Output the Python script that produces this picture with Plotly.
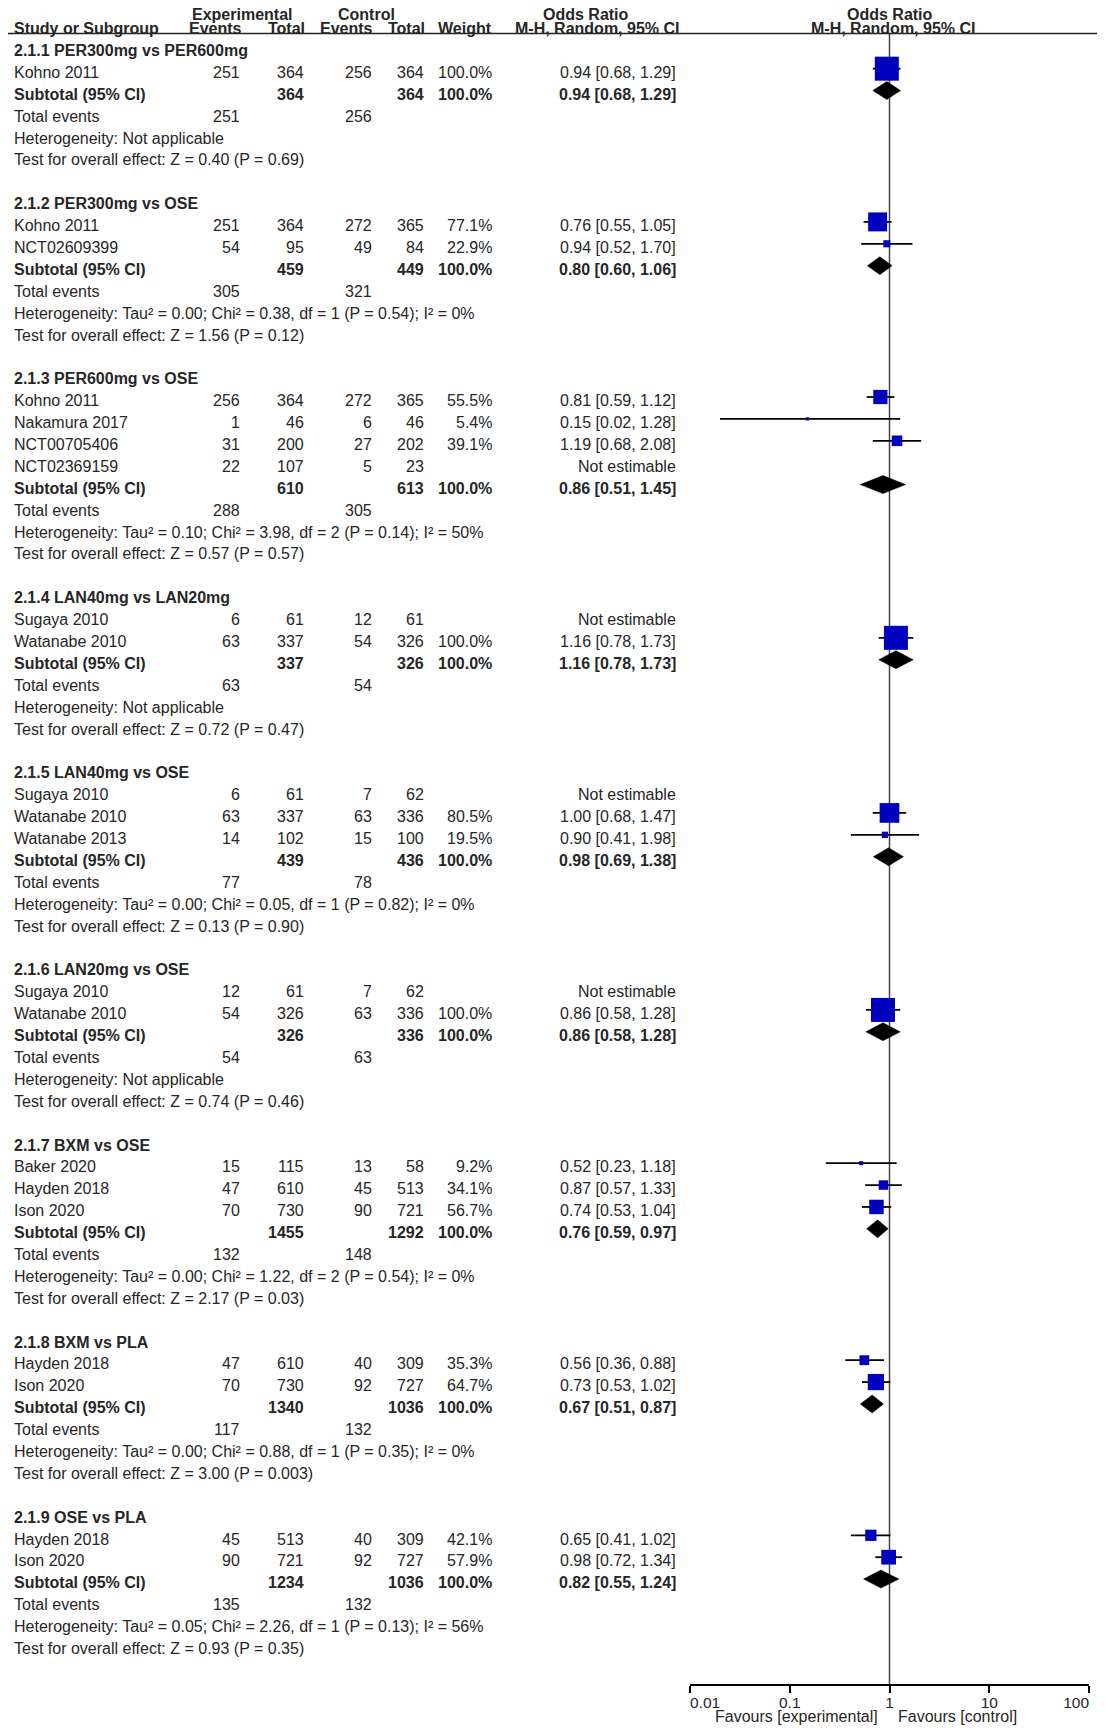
import plotly.graph_objects as go

# ---------------- data ----------------
section_titles = [
    "2.1.1 PER300mg vs PER600mg", "2.1.2 PER300mg vs OSE", "2.1.3 PER600mg vs OSE",
    "2.1.4 LAN40mg vs LAN20mg", "2.1.5 LAN40mg vs OSE", "2.1.6 LAN20mg vs OSE",
    "2.1.7 BXM vs OSE", "2.1.8 BXM vs PLA", "2.1.9 OSE vs PLA",
]

study_section = [0, 1, 1, 2, 2, 2, 2, 3, 3, 4, 4, 4, 5, 5, 6, 6, 6, 7, 7, 8, 8]
study_names = [
    "Kohno 2011",
    "Kohno 2011", "NCT02609399",
    "Kohno 2011", "Nakamura 2017", "NCT00705406", "NCT02369159",
    "Sugaya 2010", "Watanabe 2010",
    "Sugaya 2010", "Watanabe 2010", "Watanabe 2013",
    "Sugaya 2010", "Watanabe 2010",
    "Baker 2020", "Hayden 2018", "Ison 2020",
    "Hayden 2018", "Ison 2020",
    "Hayden 2018", "Ison 2020",
]
exp_events = [251, 251, 54, 256, 1, 31, 22, 6, 63, 6, 63, 14, 12, 54, 15, 47, 70, 47, 70, 45, 90]
exp_total = [364, 364, 95, 364, 46, 200, 107, 61, 337, 61, 337, 102, 61, 326, 115, 610, 730, 610, 730, 513, 721]
ctl_events = [256, 272, 49, 272, 6, 27, 5, 12, 54, 7, 63, 15, 7, 63, 13, 45, 90, 40, 92, 40, 92]
ctl_total = [364, 365, 84, 365, 46, 202, 23, 61, 326, 62, 336, 100, 62, 336, 58, 513, 721, 309, 727, 309, 727]
weights = [100.0, 77.1, 22.9, 55.5, 5.4, 39.1, None, None, 100.0, None, 80.5, 19.5, None, 100.0,
           9.2, 34.1, 56.7, 35.3, 64.7, 42.1, 57.9]
or_est = [0.94, 0.76, 0.94, 0.81, 0.15, 1.19, None, None, 1.16, None, 1.00, 0.90, None, 0.86,
          0.52, 0.87, 0.74, 0.56, 0.73, 0.65, 0.98]
or_lo = [0.68, 0.55, 0.52, 0.59, 0.02, 0.68, None, None, 0.78, None, 0.68, 0.41, None, 0.58,
         0.23, 0.57, 0.53, 0.36, 0.53, 0.41, 0.72]
or_hi = [1.29, 1.05, 1.70, 1.12, 1.28, 2.08, None, None, 1.73, None, 1.47, 1.98, None, 1.28,
         1.18, 1.33, 1.04, 0.88, 1.02, 1.02, 1.34]

sub_exp_total = [364, 459, 610, 337, 439, 326, 1455, 1340, 1234]
sub_ctl_total = [364, 449, 613, 326, 436, 336, 1292, 1036, 1036]
sub_or = [0.94, 0.80, 0.86, 1.16, 0.98, 0.86, 0.76, 0.67, 0.82]
sub_lo = [0.68, 0.60, 0.51, 0.78, 0.69, 0.58, 0.59, 0.51, 0.55]
sub_hi = [1.29, 1.06, 1.45, 1.73, 1.38, 1.28, 0.97, 0.87, 1.24]
tot_exp_events = [251, 305, 288, 63, 77, 54, 132, 117, 135]
tot_ctl_events = [256, 321, 305, 54, 78, 63, 148, 132, 132]
heterogeneity = [
    "Not applicable",
    "Tau² = 0.00; Chi² = 0.38, df = 1 (P = 0.54); I² = 0%",
    "Tau² = 0.10; Chi² = 3.98, df = 2 (P = 0.14); I² = 50%",
    "Not applicable",
    "Tau² = 0.00; Chi² = 0.05, df = 1 (P = 0.82); I² = 0%",
    "Not applicable",
    "Tau² = 0.00; Chi² = 1.22, df = 2 (P = 0.54); I² = 0%",
    "Tau² = 0.00; Chi² = 0.88, df = 1 (P = 0.35); I² = 0%",
    "Tau² = 0.05; Chi² = 2.26, df = 1 (P = 0.13); I² = 56%",
]
overall_effect = [
    "Z = 0.40 (P = 0.69)", "Z = 1.56 (P = 0.12)", "Z = 0.57 (P = 0.57)",
    "Z = 0.72 (P = 0.47)", "Z = 0.13 (P = 0.90)", "Z = 0.74 (P = 0.46)",
    "Z = 2.17 (P = 0.03)", "Z = 3.00 (P = 0.003)", "Z = 0.93 (P = 0.35)",
]
axis_ticks = [0.01, 0.1, 1, 10, 100]
axis_ticktext = ["0.01", "0.1", "1", "10", "100"]

# ---------------- layout constants ----------------
# The page body has an 8px default margin; the figure is sized/offset to fill the window.
OFF = 8
W, H = 1105 - OFF, 1733 - 2 * OFF


def px_x(v):  # window x pixel -> figure pixel
    return v - OFF


def px_y(v):
    return v - OFF


ROW0, ROWH = px_y(50.5), 21.89
R_TOP = -ROW0 / ROWH
R_BOT = R_TOP + H / ROWH
AXIS_PX = px_y(1685)
AXIS_ROW = (AXIS_PX - ROW0) / ROWH
HDR_LINE_ROW = (px_y(33.5) - ROW0) / ROWH
FONT = "Liberation Sans, Arial, sans-serif"
FS = 16
TXT = "#262626"
MARK_OFF = -0.17

X_NAME, X_EE, X_ET, X_CE, X_CT, X_W, X_OR = 12.5, 241, 305, 373, 424.5, 493, 676.5

annotations = []


def txt(xpx, row, text, anchor="right", bold=False):
    annotations.append(dict(
        x=px_x(xpx) / W, xref="paper", y=row, yref="y", text=f"<b>{text}</b>" if bold else text,
        showarrow=False, xanchor=anchor, yanchor="middle", borderpad=0,
        font=dict(family=FONT, size=FS, color=TXT),
    ))


def fmt_ci(e, lo, hi):
    return f"{e:.2f} [{lo:.2f}, {hi:.2f}]"


# headers
hr1 = (px_y(14.5) - ROW0) / ROWH
hr2 = (px_y(28.5) - ROW0) / ROWH
txt(242, hr1, "Experimental", "center", True)
txt(366.5, hr1, "Control", "center", True)
txt(586, hr1, "Odds Ratio", "center", True)
txt(890, hr1, "Odds Ratio", "center", True)
txt(X_NAME, hr2, "Study or Subgroup", "left", True)
txt(243, hr2, "Events", "right", True)
txt(306, hr2, "Total", "right", True)
txt(374, hr2, "Events", "right", True)
txt(425.5, hr2, "Total", "right", True)
txt(493, hr2, "Weight", "right", True)
txt(680, hr2, "M-H, Random, 95% CI", "right", True)
txt(893, hr2, "M-H, Random, 95% CI", "center", True)

# rows
ci_x, ci_y = [], []
sq_x, sq_y, sq_s = [], [], []
diamonds = []
r = 0
for s, title in enumerate(section_titles):
    txt(X_NAME, r, title, "left", True)
    r += 1
    for i, sec in enumerate(study_section):
        if sec != s:
            continue
        txt(X_NAME, r, study_names[i], "left")
        txt(X_EE, r, str(exp_events[i]))
        txt(X_ET, r, str(exp_total[i]))
        txt(X_CE, r, str(ctl_events[i]))
        txt(X_CT, r, str(ctl_total[i]))
        if weights[i] is None:
            txt(X_OR, r, "Not estimable")
        else:
            txt(X_W, r, f"{weights[i]:.1f}%")
            txt(X_OR, r, fmt_ci(or_est[i], or_lo[i], or_hi[i]))
            ci_x += [or_lo[i], or_hi[i], None]
            ci_y += [r + MARK_OFF, r + MARK_OFF, None]
            sq_x.append(or_est[i])
            sq_y.append(r + MARK_OFF)
            sq_s.append(2 + 22 * weights[i] / 100)
        r += 1
    txt(X_NAME, r, "Subtotal (95% CI)", "left", True)
    txt(X_ET, r, str(sub_exp_total[s]), bold=True)
    txt(X_CT, r, str(sub_ctl_total[s]), bold=True)
    txt(X_W, r, "100.0%", bold=True)
    txt(X_OR, r, fmt_ci(sub_or[s], sub_lo[s], sub_hi[s]), bold=True)
    diamonds.append((sub_lo[s], sub_or[s], sub_hi[s], r + MARK_OFF))
    r += 1
    txt(X_NAME, r, "Total events", "left")
    txt(X_EE, r, str(tot_exp_events[s]))
    txt(X_CE, r, str(tot_ctl_events[s]))
    r += 1
    txt(X_NAME, r, "Heterogeneity: " + heterogeneity[s], "left")
    r += 1
    txt(X_NAME, r, "Test for overall effect: " + overall_effect[s], "left")
    r += 2

fig = go.Figure()
fig.add_trace(go.Scatter(x=ci_x, y=ci_y, mode="lines", line=dict(color="black", width=1.8),
                         hoverinfo="skip"))
DH = 9 / ROWH
for lo, est, hi, y in diamonds:
    fig.add_trace(go.Scatter(x=[lo, est, hi, est, lo], y=[y, y - DH, y, y + DH, y],
                             mode="lines", fill="toself", fillcolor="black",
                             line=dict(color="black", width=0.5), hoverinfo="skip"))
fig.add_trace(go.Scatter(x=sq_x, y=sq_y, mode="markers",
                         marker=dict(symbol="square", size=sq_s, color="#0000BF", opacity=1,
                                     line=dict(width=0)), hoverinfo="skip"))

fav_row = (px_y(1716.5) - ROW0) / ROWH
annotations.append(dict(x=0, xref="x", y=fav_row, yref="y", text="Favours [experimental]",
                        showarrow=False, xanchor="right", yanchor="middle", xshift=-11,
                        borderpad=0, font=dict(family=FONT, size=FS, color=TXT)))
annotations.append(dict(x=0, xref="x", y=fav_row, yref="y", text="Favours [control]",
                        showarrow=False, xanchor="left", yanchor="middle", xshift=7,
                        borderpad=0, font=dict(family=FONT, size=FS, color=TXT)))

shapes = [
    dict(type="line", xref="paper", yref="y", x0=0, x1=1, y0=HDR_LINE_ROW, y1=HDR_LINE_ROW,
         line=dict(color="#222", width=1.5)),
    dict(type="line", xref="x", yref="y", x0=1, x1=1, y0=HDR_LINE_ROW, y1=AXIS_ROW,
         line=dict(color="#444", width=1.5), layer="below"),
]

# end labels sit inside the axis ends, as in the reference (padding with no-break spaces)
NB = "\u00a0"
tick_labels = list(axis_ticktext)
tick_labels[0] = NB * 7 + tick_labels[0]
tick_labels[-1] = tick_labels[-1] + NB * 6

fig.update_layout(
    width=W, height=H, margin=dict(l=0, r=0, t=0, b=0, pad=0, autoexpand=False),
    paper_bgcolor="white", plot_bgcolor="rgba(0,0,0,0)", showlegend=False,
    annotations=annotations, shapes=shapes,
    xaxis=dict(type="log", range=[-2, 2], domain=[px_x(690) / W, px_x(1089) / W], anchor="free",
               position=1 - AXIS_PX / H, showline=True, linecolor="black", linewidth=1.5,
               ticks="outside", ticklen=7, tickwidth=1.5, tickcolor="black",
               tickvals=axis_ticks, ticktext=tick_labels, showgrid=False, zeroline=False,
               automargin=False, ticklabelstandoff=-3, ticklabeloverflow="allow",
               tickfont=dict(family=FONT, size=15.5, color=TXT), fixedrange=True),
    yaxis=dict(range=[R_BOT, R_TOP], domain=[0, 1], visible=False, fixedrange=True,
               showgrid=False, zeroline=False),
)

fig.write_html("out.html")
